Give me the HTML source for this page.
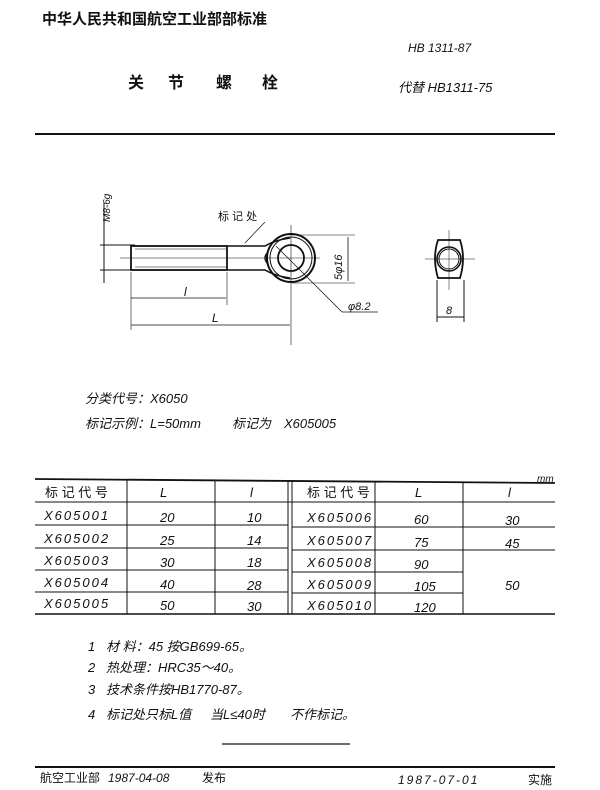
<!DOCTYPE html>
<html><head><meta charset="utf-8"><style>
body{margin:0;background:#fff}
svg{display:block}
text{font-family:"Liberation Sans","Noto Sans CJK SC",sans-serif;fill:#111}
.i{font-style:italic}
</style></head><body>
<svg width="600" height="790" viewBox="0 0 600 790" xmlns="http://www.w3.org/2000/svg">
<g stroke="#111" fill="none" stroke-width="1">
<text x="42" y="24" font-size="15" font-weight="bold" stroke="none">中华人民共和国航空工业部部标准</text>
<text x="408" y="52" font-size="12" class="i" stroke="none">HB 1311-87</text>
<text x="128" y="88" font-size="16" font-weight="bold" stroke="none">关</text>
<text x="168" y="88" font-size="16" font-weight="bold" stroke="none">节</text>
<text x="216" y="88" font-size="16" font-weight="bold" stroke="none">螺</text>
<text x="262" y="88" font-size="16" font-weight="bold" stroke="none">栓</text>
<text x="398" y="92" font-size="13" class="i" stroke="none">代替 HB1311-75</text>
<line x1="35" y1="134" x2="555" y2="134" stroke-width="2"/>
<line x1="104" y1="203" x2="104" y2="283"/>
<text x="110" y="222" font-size="10" class="i" stroke="none" transform="rotate(-90 110 222)">M8-6g</text>
<line x1="100" y1="245" x2="135" y2="245"/><line x1="100" y1="270" x2="135" y2="270"/>
<rect x="131" y="246" width="96" height="24" stroke-width="1.8"/>
<line x1="135" y1="249" x2="226" y2="249" stroke-width="0.6"/>
<line x1="135" y1="267" x2="226" y2="267" stroke-width="0.6"/>
<path d="M227 246 L265 246 Q275 240 290 238 M227 270 L265 270 Q275 276 290 278" stroke-width="1.6"/>
<circle cx="291" cy="258" r="24" stroke-width="2"/>
<circle cx="291" cy="258" r="21"/>
<circle cx="291" cy="258" r="13" stroke-width="1.8"/>
<path d="M268 252 Q262 258 268 264" stroke-width="1.4"/>
<line x1="120" y1="258" x2="320" y2="258" stroke-width="0.6"/>
<line x1="291" y1="225" x2="291" y2="345" stroke-width="0.6"/>
<line x1="276" y1="246" x2="342" y2="312" stroke-width="0.7"/>
<line x1="342" y1="312" x2="378" y2="312" stroke-width="0.7"/>
<text x="348" y="310" font-size="11" class="i" stroke="none">φ8.2</text>
<line x1="245" y1="243" x2="265" y2="222" stroke-width="0.7"/>
<text x="218" y="220" font-size="11" stroke="none">标 记 处</text>
<line x1="292" y1="235" x2="355" y2="235" stroke-width="0.6"/>
<line x1="292" y1="283" x2="355" y2="283" stroke-width="0.6"/>
<line x1="348" y1="237" x2="348" y2="281" stroke-width="0.8"/>
<text x="342" y="280" font-size="11" class="i" stroke="none" transform="rotate(-90 342 280)">5φ16</text>
<line x1="131" y1="272" x2="131" y2="330" stroke-width="0.6"/>
<line x1="227" y1="272" x2="227" y2="305" stroke-width="0.6"/>
<line x1="131" y1="298" x2="226" y2="298" stroke-width="0.8"/>
<text x="184" y="296" font-size="12" class="i" stroke="none">l</text>
<line x1="131" y1="325" x2="290" y2="325" stroke-width="0.8"/>
<text x="212" y="322" font-size="12" class="i" stroke="none">L</text>
<path d="M438 240 L460 240 Q466 258 460 278 L438 278 Q432 258 438 240 Z" stroke-width="1.8"/>
<circle cx="449" cy="259" r="12" stroke-width="1.6"/>
<circle cx="449" cy="259" r="10"/>
<line x1="425" y1="259" x2="475" y2="259" stroke-width="0.5"/>
<line x1="449" y1="230" x2="449" y2="290" stroke-width="0.5"/>
<line x1="437" y1="280" x2="437" y2="322"/><line x1="464" y1="280" x2="464" y2="322"/>
<line x1="437" y1="317" x2="464" y2="317"/>
<text x="446" y="314" font-size="11" class="i" stroke="none">8</text>
<text x="85" y="403" font-size="13" class="i" stroke="none">分类代号：X6050</text>
<text x="85" y="428" font-size="13" class="i" stroke="none">标记示例：L=50mm</text>
<text x="232" y="428" font-size="13" class="i" stroke="none">标记为</text>
<text x="284" y="428" font-size="13" class="i" stroke="none">X605005</text>
<text x="537" y="482" font-size="10" class="i" stroke="none">mm</text>
<line x1="35" y1="479" x2="555" y2="483" stroke-width="1.8"/>
<line x1="35" y1="502" x2="555" y2="502"/>
<line x1="35" y1="525" x2="288" y2="525"/><line x1="35" y1="548" x2="288" y2="548"/>
<line x1="35" y1="570" x2="288" y2="570"/><line x1="35" y1="592" x2="288" y2="592"/>
<line x1="292" y1="527" x2="555" y2="527"/><line x1="292" y1="550" x2="555" y2="550"/>
<line x1="292" y1="572" x2="463" y2="572"/><line x1="292" y1="593" x2="463" y2="593"/>
<line x1="35" y1="614" x2="555" y2="614" stroke-width="1.5"/>
<line x1="127" y1="480" x2="127" y2="614"/><line x1="215" y1="480" x2="215" y2="614"/>
<line x1="288" y1="480" x2="288" y2="614"/><line x1="292" y1="480" x2="292" y2="614"/>
<line x1="375" y1="481" x2="375" y2="614"/><line x1="463" y1="482" x2="463" y2="614"/>
</g>
<g font-size="13" class="i">
<text x="45" y="497" font-style="normal">标 记 代 号</text>
<text x="160" y="497">L</text><text x="250" y="497">l</text>
<text x="307" y="497" font-style="normal">标 记 代 号</text>
<text x="415" y="497">L</text><text x="508" y="497">l</text>
<text x="44" y="520" letter-spacing="2">X605001</text><text x="160" y="522">20</text><text x="247" y="522">10</text>
<text x="44" y="543" letter-spacing="2">X605002</text><text x="160" y="545">25</text><text x="247" y="545">14</text>
<text x="44" y="565" letter-spacing="2">X605003</text><text x="160" y="567">30</text><text x="247" y="567">18</text>
<text x="44" y="587" letter-spacing="2">X605004</text><text x="160" y="589">40</text><text x="247" y="590">28</text>
<text x="44" y="608" letter-spacing="2">X605005</text><text x="160" y="610">50</text><text x="247" y="611">30</text>
<text x="307" y="522" letter-spacing="2">X605006</text><text x="414" y="524">60</text><text x="505" y="525">30</text>
<text x="307" y="545" letter-spacing="2">X605007</text><text x="414" y="547">75</text><text x="505" y="548">45</text>
<text x="307" y="567" letter-spacing="2">X605008</text><text x="414" y="569">90</text>
<text x="307" y="589" letter-spacing="2">X605009</text><text x="414" y="591">105</text><text x="505" y="590">50</text>
<text x="307" y="610" letter-spacing="2">X605010</text><text x="414" y="612">120</text>
</g>
<g font-size="13" class="i">
<text x="88" y="651">1</text><text x="106" y="651">材  料：45  按GB699-65。</text>
<text x="88" y="672">2</text><text x="106" y="672">热处理：HRC35～40。</text>
<text x="88" y="694">3</text><text x="106" y="694">技术条件按HB1770-87。</text>
<text x="88" y="719">4</text><text x="106" y="719">标记处只标L值</text><text x="210" y="719">当L≤40时</text><text x="290" y="719">不作标记。</text>
</g>
<line x1="222" y1="744" x2="350" y2="744" stroke="#111" stroke-width="1.2"/>
<line x1="35" y1="767" x2="555" y2="767" stroke="#111" stroke-width="2"/>
<text x="40" y="782" font-size="12">航空工业部</text>
<text x="108" y="782" font-size="12" class="i">1987-04-08</text>
<text x="202" y="782" font-size="12">发布</text>
<text x="398" y="784" font-size="12" class="i" letter-spacing="2">1987-07-01</text>
<text x="528" y="784" font-size="12">实施</text>
</svg>
</body></html>
